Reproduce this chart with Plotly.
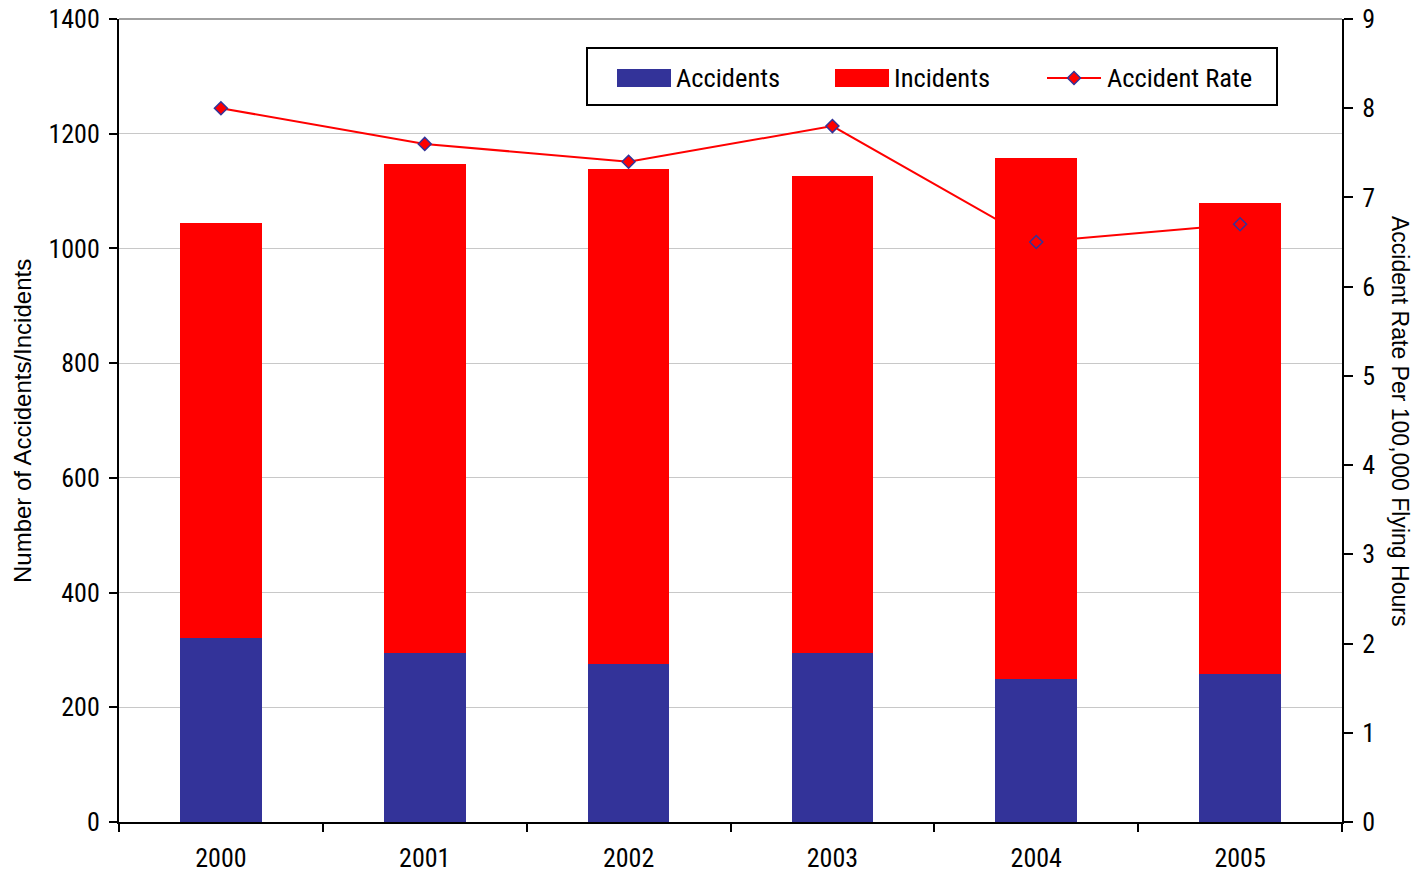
import plotly.graph_objects as go

# Aviation safety summary, 2000-2005
years = ["2000", "2001", "2002", "2003", "2004", "2005"]
accidents = [321, 295, 275, 295, 250, 258]
incidents = [723, 852, 863, 831, 908, 821]
accident_rate = [8.0, 7.6, 7.4, 7.8, 6.5, 6.7]

left_ticks = [0, 200, 400, 600, 800, 1000, 1200, 1400]
right_ticks = [0, 1, 2, 3, 4, 5, 6, 7, 8, 9]

BLUE = "#333399"
RED = "#FF0000"
NARROW = "Liberation Sans Narrow, Arial Narrow, Roboto Condensed, DejaVu Sans Condensed, sans-serif"
REGULAR = "Liberation Sans, Arial, sans-serif"

W, H = 1424, 873
L, R, T, B = 119, 82, 19, 51
PW, PH = W - L - R, H - T - B


def px(x):
    return (x - L) / PW


def py(y):
    return (H - B - y) / PH


fig = go.Figure()
fig.add_trace(go.Bar(x=years, y=accidents, name="Accidents", marker=dict(color=BLUE, line=dict(width=0)),
                     showlegend=False))
fig.add_trace(go.Bar(x=years, y=incidents, name="Incidents", marker=dict(color=RED, line=dict(width=0)),
                     showlegend=False))
fig.add_trace(go.Scatter(x=years, y=accident_rate, name="Accident Rate", yaxis="y2", mode="lines+markers",
                         line=dict(color=RED, width=2),
                         marker=dict(symbol="diamond", size=10, color=RED, line=dict(color=BLUE, width=1.5)),
                         showlegend=False))

shapes = []
annotations = []

# top border of the plot area
shapes.append(dict(type="line", xref="paper", yref="paper", x0=0, x1=1, y0=1, y1=1,
                   line=dict(color="#808080", width=1.5)))

# legend box
shapes.append(dict(type="rect", xref="paper", yref="paper", x0=px(587), x1=px(1277), y0=py(105), y1=py(48),
                   line=dict(color="black", width=2), fillcolor="white", layer="above"))
legend_items = [
    ("Accidents", BLUE, 617, 674),
    ("Incidents", RED, 835, 892),
]
for label, color, sx, tx in legend_items:
    shapes.append(dict(type="rect", xref="paper", yref="paper", x0=px(sx), x1=px(sx + 54),
                       y0=py(87), y1=py(69), line=dict(width=0), fillcolor=color, layer="above"))
    annotations.append(dict(text=label, xref="paper", yref="paper", x=px(tx), y=py(78),
                            xanchor="left", yanchor="middle", showarrow=False,
                            font=dict(family=NARROW, size=26.5, color="black")))
# accident rate legend entry: line with diamond
shapes.append(dict(type="line", xref="paper", yref="paper", x0=px(1047), x1=px(1101), y0=py(78), y1=py(78),
                   line=dict(color=RED, width=2), layer="above"))
cx, cy, r = 1074, 78, 6.5
shapes.append(dict(type="path", xref="paper", yref="paper",
                   path=f"M {px(cx)} {py(cy - r)} L {px(cx + r)} {py(cy)} L {px(cx)} {py(cy + r)} L {px(cx - r)} {py(cy)} Z",
                   fillcolor=RED, line=dict(color=BLUE, width=1.5), layer="above"))
annotations.append(dict(text="Accident Rate", xref="paper", yref="paper", x=px(1105), y=py(78),
                        xanchor="left", yanchor="middle", showarrow=False,
                        font=dict(family=NARROW, size=26.5, color="black")))

# axis titles
annotations.append(dict(text="Number of Accidents/Incidents", xref="paper", yref="paper", x=px(22), y=py(421),
                        xanchor="center", yanchor="middle", textangle=-90, showarrow=False,
                        font=dict(family=REGULAR, size=24, color="black")))
annotations.append(dict(text="Accident Rate Per 100,000 Flying Hours", xref="paper", yref="paper", x=px(1400),
                        y=py(421), xanchor="center", yanchor="middle", textangle=90, showarrow=False,
                        font=dict(family=REGULAR, size=23, color="black")))

fig.update_layout(
    width=W, height=H,
    margin=dict(l=L, r=R, t=T, b=B, pad=0, autoexpand=False),
    paper_bgcolor="white", plot_bgcolor="white",
    barmode="stack", bargap=0.6,
    showlegend=False,
    font=dict(family=NARROW, size=26, color="black"),
    xaxis=dict(type="category", showline=True, linecolor="black", linewidth=2, automargin=False,
               ticks="outside", tickson="boundaries", ticklen=8, tickwidth=2, tickcolor="black",
               showgrid=False, ticklabelstandoff=12,
               tickfont=dict(family=NARROW, size=26, color="black")),
    yaxis=dict(range=[0, 1400], tickvals=left_ticks, showline=True, linecolor="black", linewidth=2,
               automargin=False,
               ticks="outside", ticklen=8, tickwidth=2, tickcolor="black",
               showgrid=True, gridcolor="#C8C8C8", gridwidth=1, zeroline=False,
               ticklabelstandoff=4,
               tickfont=dict(family=NARROW, size=26, color="black")),
    yaxis2=dict(range=[0, 9], tickvals=right_ticks, overlaying="y", side="right", anchor="x",
                showline=True, linecolor="black", linewidth=2, automargin=False,
                ticks="outside", ticklen=9, tickwidth=2, tickcolor="black",
                showgrid=False, zeroline=False, ticklabelstandoff=4,
                tickfont=dict(family=NARROW, size=26, color="black")),
    yaxis3=dict(range=[0, 9], tickvals=right_ticks, overlaying="y", side="right", anchor="x",
                showline=False, ticks="inside", ticklen=9, tickwidth=2, tickcolor="black",
                automargin=False,
                showticklabels=False, showgrid=False, zeroline=False),
    shapes=shapes,
    annotations=annotations,
)

fig.write_html("out.html")
